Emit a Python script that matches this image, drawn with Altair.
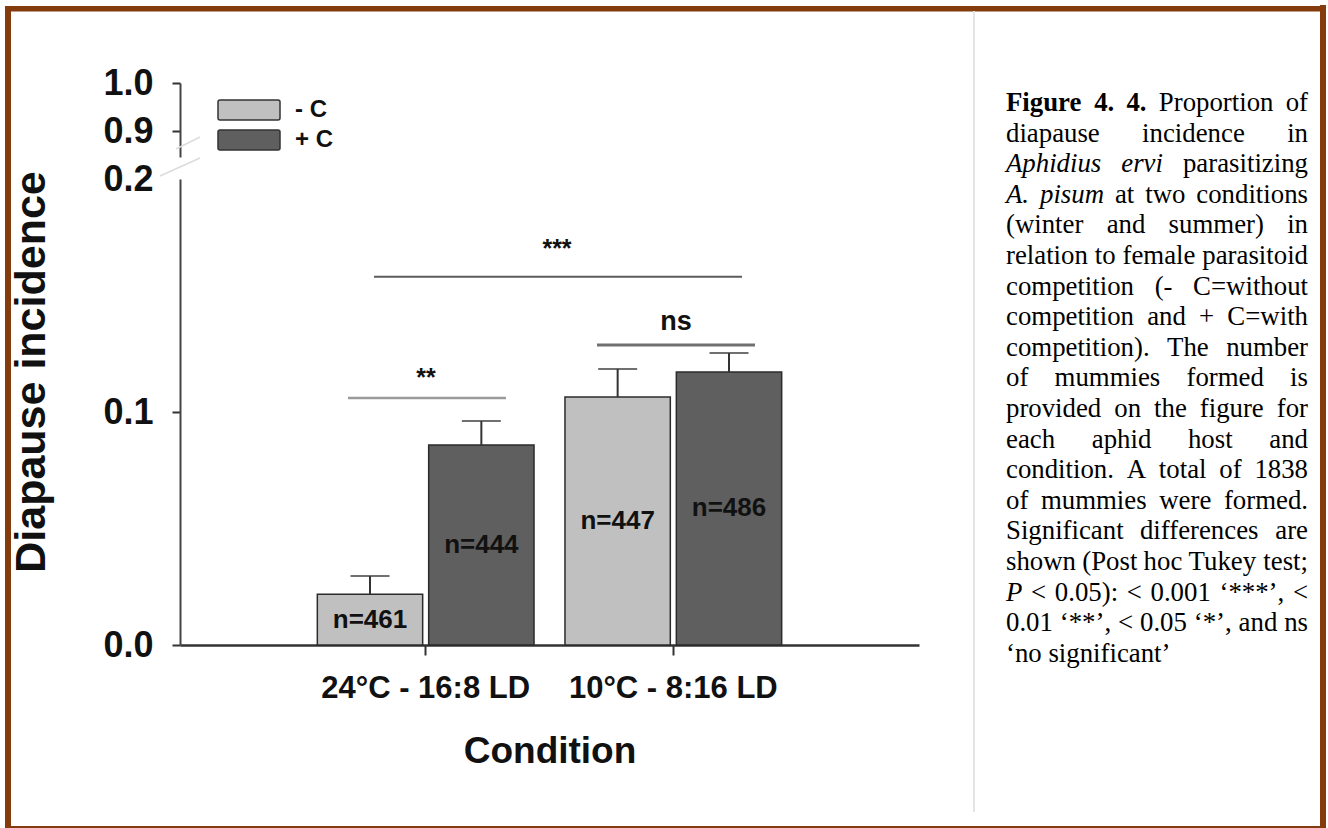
import altair as alt
import pandas as pd

# ---- data -------------------------------------------------------------
conditions = ["24°C - 16:8 LD", "10°C - 8:16 LD"]
treatments = ["- C", "+ C"]
bar_condition = ["24°C - 16:8 LD", "24°C - 16:8 LD", "10°C - 8:16 LD", "10°C - 8:16 LD"]
bar_treatment = ["- C", "+ C", "- C", "+ C"]
incidence = [0.0218, 0.0858, 0.1064, 0.1172]
std_error = [0.0078, 0.0103, 0.0121, 0.0081]
n_mummies = [461, 444, 447, 486]

# pairwise comparisons (Tukey)
sig_labels = ["**", "***", "ns"]
sig_line_level = [0.106, 0.158, 0.1288]
sig_text_level = [0.1112, 0.1665, 0.1352]

# upper part of the broken axis
upper_ticks = [0.9, 1.0]

caption_lines = [
    "b|Figure b|4. b|4. Proportion of",
    "diapause incidence in",
    "i|Aphidius i|ervi parasitizing",
    "i|A. i|pisum at two conditions",
    "(winter and summer) in",
    "relation to female parasitoid",
    "competition (- C=without",
    "competition and + C=with",
    "competition). The number",
    "of mummies formed is",
    "provided on the figure for",
    "each aphid host and",
    "condition. A total of 1838",
    "of mummies were formed.",
    "Significant differences are",
    "shown (Post hoc Tukey test;",
    "i|P < 0.05): < 0.001 ‘***’, <",
    "0.01 ‘**’, < 0.05 ‘*’, and ns",
    "‘no significant’",
]

# ---- layout (pixels, relative to the plot origin) ---------------------
W, H = 739, 562
PAD = {"left": 180, "top": 83, "right": 1328 - 180 - W, "bottom": 828 - 83 - H}
FONT = "Liberation Sans"
SERIF = "Liberation Serif"
BROWN = "#843C0C"
FILLS = ["#c0c0c0", "#5f5f5f"]
TICK_FONT = 36

lower_scale = alt.Scale(domain=[0, 0.2], range=[562, 96], nice=False, zero=False)
upper_scale = alt.Scale(domain=[0.846, 1.0], range=[74, 0], nice=False, zero=False)

df = pd.DataFrame({
    "condition": bar_condition,
    "treatment": bar_treatment,
    "incidence": incidence,
    "se": std_error,
    "n": n_mummies,
})
df["upper"] = df["incidence"] + df["se"]
df["mid"] = df["incidence"] / 2
df["label"] = "n=" + df["n"].astype(str)

x_axis = alt.Axis(
    title=None, labelFont=FONT, labelFontSize=31, labelFontWeight="bold",
    labelColor="#111", labelPadding=18, labelAngle=0, labelLimit=0,
    tickSize=10, tickWidth=2, tickColor="#333", domainColor="#333",
    domainWidth=2.5,
)


def xenc(axis=None):
    return alt.X("condition:N", sort=conditions,
                 scale=alt.Scale(paddingInner=0.125, paddingOuter=0.5545),
                 axis=axis)


def xoff():
    return alt.XOffset("treatment:N", sort=treatments,
                       scale=alt.Scale(paddingInner=0.054, paddingOuter=0))


y_axis = alt.Axis(
    title=None, values=[0, 0.1, 0.2], format=".1f", labelFont=FONT,
    labelFontSize=TICK_FONT, labelFontWeight="bold", labelColor="#111",
    labelPadding=19, tickSize=8, tickWidth=2, tickColor="#333",
    domainColor="#444", domainWidth=2,
    tickOpacity={"condition": {"test": "datum.value > 0.15", "value": 0}, "value": 1},
)

bars = alt.Chart(df).mark_bar(stroke="#2b2b2b", strokeWidth=1.5).encode(
    x=xenc(x_axis),
    xOffset=xoff(),
    y=alt.Y("incidence:Q", scale=lower_scale, axis=y_axis),
    color=alt.Color("treatment:N", scale=alt.Scale(domain=treatments, range=FILLS), legend=None),
)

err = alt.Chart(df).mark_rule(color="#333", strokeWidth=2).encode(
    x=xenc(), xOffset=xoff(),
    y=alt.Y("incidence:Q", scale=lower_scale, axis=None),
    y2="upper:Q",
)

caps = alt.Chart(df).mark_tick(color="#333", size=39, thickness=2).encode(
    x=xenc(), xOffset=xoff(),
    y=alt.Y("upper:Q", scale=lower_scale, axis=None),
)

nlab = alt.Chart(df).mark_text(font=FONT, fontSize=26, fontWeight="bold",
                                color="#111", baseline="middle").encode(
    x=xenc(), xOffset=xoff(),
    y=alt.Y("mid:Q", scale=lower_scale, axis=None),
    text="label:N",
)

sig = pd.DataFrame({"label": sig_labels, "level": sig_line_level, "tlevel": sig_text_level})
sig["x1"] = [168, 194, 417]
sig["x2"] = [326, 562, 575]
sig["xc"] = [246, 377, 496]
sig["col"] = ["#9a9a9a", "#5c5c5c", "#707070"]
sig["sw"] = [2.5, 2, 3]
sig["fs"] = [25, 25, 27]

sig_rules = alt.Chart(sig).mark_rule().encode(
    x=alt.X("x1:Q", scale=None, axis=None),
    x2="x2:Q",
    y=alt.Y("level:Q", scale=lower_scale, axis=None),
    color=alt.Color("col:N", scale=None, legend=None),
    strokeWidth=alt.StrokeWidth("sw:Q", scale=None, legend=None),
)

sig_text = alt.Chart(sig).mark_text(font=FONT, fontWeight="bold", color="#111",
                                    baseline="alphabetic").encode(
    x=alt.X("xc:Q", scale=None, axis=None),
    y=alt.Y("tlevel:Q", scale=lower_scale, axis=None),
    text="label:N",
    size=alt.Size("fs:Q", scale=None, legend=None),
)

upper = alt.Chart(pd.DataFrame({"v": upper_ticks})).mark_point(opacity=0).encode(
    y=alt.Y("v:Q", scale=upper_scale, axis=alt.Axis(
        orient="left", title=None, values=upper_ticks, format=".1f",
        labelFont=FONT, labelFontSize=TICK_FONT, labelFontWeight="bold",
        labelColor="#111", labelPadding=19, tickSize=8, tickWidth=2,
        tickColor="#333", domainColor="#444", domainWidth=2)),
)


# ---- decorations -------------------------------------------------------
def px(field):
    return alt.X(field, scale=None, axis=None)


def py(field):
    return alt.Y(field, scale=None, axis=None)


frame = pd.DataFrame({
    "x": [-175, -175, 1140, -175],
    "x2": [1146, -169, 1146, 1146],
    "y": [-77, -77, -78, 743],
    "y2": [-71.5, 745, 745, 745],
})
border = alt.Chart(frame).mark_rect(color=BROWN).encode(
    x=px("x:Q"), x2="x2:Q", y=py("y:Q"), y2="y2:Q")

divider = alt.Chart(pd.DataFrame({"x": [794], "y": [-72], "y2": [729]})).mark_rule(
    color="#e4e4e4", strokeWidth=2).encode(x=px("x:Q"), y=py("y:Q"), y2="y2:Q")

breaks = alt.Chart(pd.DataFrame({
    "x": [-4, -20], "x2": [20, 20], "y": [66, 93], "y2": [54, 75]})).mark_rule(
    color="#dcdcdc", strokeWidth=1.5).encode(
    x=px("x:Q"), x2="x2:Q", y=py("y:Q"), y2="y2:Q")

legend_df = pd.DataFrame({"treatment": treatments, "y": [17, 47], "y2": [37, 67],
                          "ty": [27, 57]})
legend_box = alt.Chart(legend_df).mark_rect(stroke="#333", strokeWidth=1.5,
                                            cornerRadius=2).encode(
    x=alt.value(38), x2=alt.value(100), y=py("y:Q"), y2="y2:Q",
    fill=alt.Fill("treatment:N", scale=alt.Scale(domain=treatments, range=FILLS), legend=None),
)
legend_txt = alt.Chart(legend_df).mark_text(font=FONT, fontSize=24, fontWeight="bold",
                                            color="#111", align="left",
                                            baseline="middle").encode(
    x=alt.value(115), y=py("ty:Q"), text="treatment:N")

one = pd.DataFrame({"k": [0]})
y_title = alt.Chart(one).mark_text(text="Diapause incidence", font=FONT, fontSize=43,
                                   fontWeight="bold", color="#111", angle=270,
                                   baseline="middle", align="center").encode(
    x=alt.value(-148), y=alt.value(289))
x_title = alt.Chart(one).mark_text(text="Condition", font=FONT, fontSize=37,
                                   fontWeight="bold", color="#111",
                                   baseline="middle", align="center").encode(
    x=alt.value(370), y=alt.value(669))

# ---- caption, justified with Times metrics ------------------------------
ROMAN = {" ": 250, "(": 333, ")": 333, "*": 500, "+": 564, ",": 250, "-": 333,
         ".": 250, ":": 278, ";": 278, "<": 564, "=": 564, "‘": 333, "’": 333,
         "A": 722, "C": 667, "F": 556, "P": 556, "S": 556, "T": 611,
         "a": 444, "b": 500, "c": 444, "d": 500, "e": 444, "f": 333, "g": 500,
         "h": 500, "i": 278, "j": 278, "k": 500, "l": 278, "m": 778, "n": 500,
         "o": 500, "p": 500, "q": 500, "r": 333, "s": 389, "t": 278, "u": 500,
         "v": 500, "w": 722, "x": 500, "y": 500, "z": 444}
for d in "0123456789":
    ROMAN[d] = 500
BOLD = {"F": 611, "i": 278, "g": 500, "u": 556, "r": 444, "e": 444, "4": 500, ".": 250}
ITALIC = {"A": 611, "P": 611, "p": 500, "h": 500, "i": 278, "d": 500, "u": 500,
          "s": 389, "e": 444, "r": 389, "v": 444, "m": 722, ".": 250}
CAP_SIZE = 26.8
CAP_LEFT, CAP_RIGHT = 826, 1128
CAP_TOP, CAP_STEP = 28, 30.6


def width(word, style):
    table = {"n": ROMAN, "b": BOLD, "i": ITALIC}[style]
    return sum(table.get(ch, ROMAN.get(ch, 500)) for ch in word) / 1000 * CAP_SIZE


rows = []
for i, line in enumerate(caption_lines):
    last = i == len(caption_lines) - 1
    if last:
        toks = [(line, "n")]
    else:
        toks = [(w[2:], w[0]) if w[:2] in ("b|", "i|") else (w, "n")
                for w in line.split(" ")]
    widths = [width(t, s) for t, s in toks]
    gap = ((CAP_RIGHT - CAP_LEFT - sum(widths)) / (len(toks) - 1)
           if len(toks) > 1 else 0)
    x = CAP_LEFT
    for (t, s), w in zip(toks, widths):
        rows.append({"word": t, "style": s, "x": x, "y": CAP_TOP + CAP_STEP * i})
        x += w + gap
words = pd.DataFrame(rows)

caption_layers = []
for style, weight, slant in [("n", "normal", "normal"), ("b", "bold", "normal"),
                             ("i", "normal", "italic")]:
    caption_layers.append(
        alt.Chart(words).transform_filter(alt.datum.style == style).mark_text(
            font=SERIF, fontSize=CAP_SIZE, fontWeight=weight, fontStyle=slant,
            color="#000", align="left", baseline="alphabetic").encode(
            x=px("x:Q"), y=py("y:Q"), text="word:N"))

chart = alt.layer(
    bars, err, caps, nlab, sig_rules, sig_text, upper,
    border, divider, breaks, legend_box, legend_txt,
    y_title, x_title, *caption_layers,
).resolve_scale(
    x="independent", y="independent"
).properties(
    width=W, height=H, padding=PAD, background="white",
    autosize=alt.AutoSizeParams(type="none"),
).configure_view(stroke=None).configure_axis(grid=False)

chart.save("out.html", embed_options={"renderer": "svg", "actions": False})
